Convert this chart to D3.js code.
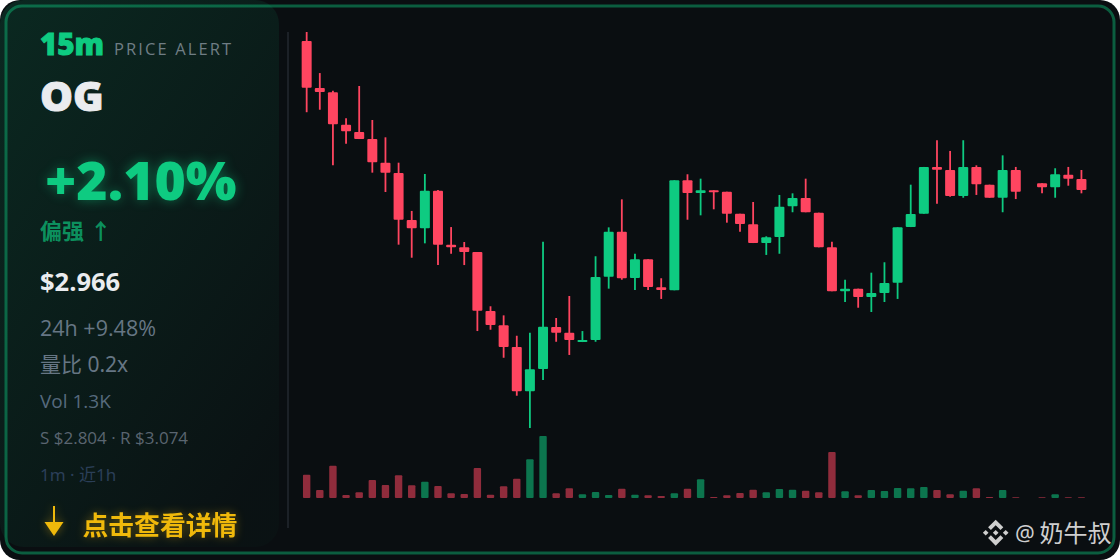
<!DOCTYPE html>
<html>
<head>
<meta charset="utf-8">
<script src="https://cdn.jsdelivr.net/npm/d3@7/dist/d3.min.js"></script>
<style>
	html, body { margin: 0; padding: 0; background: #fff; }
	svg { display: block; }
	text { font-family: "Open Sans", "Noto Sans CJK SC", sans-serif; }
	.cjk { font-family: "Noto Sans", "Noto Sans CJK SC", sans-serif; }
</style>
</head>
<body>
<svg id="chart" width="1120" height="560"></svg>
<script>
// candles, oldest first. index 55 had no trades, nothing is drawn for it
var opens = [3.0679,3.0358,3.0329,3.0108,3.0058,3.0010,2.9849,2.9779,2.9458,2.9402,
	2.9658,2.9290,2.9272,2.9240,2.8838,2.8740,2.8592,2.8290,2.8442,2.8729,
	2.8690,2.8626,2.8640,2.9072,2.9378,2.9063,2.9190,2.8999,2.8979,2.9729,
	2.9642,2.9661,2.9651,2.9501,2.9429,2.9301,2.9342,2.9552,2.9608,2.9508,
	2.9272,2.8972,2.8990,2.8933,2.8960,2.9031,2.9410,2.9501,2.9820,2.9799,
	2.9622,2.9820,2.9699,2.9610,2.9799,null,2.9708,2.9681,2.9767,2.9738];
var highs = [3.0740,3.0460,3.0340,3.0152,3.0372,3.0140,3.0022,2.9849,2.9520,2.9772,
	2.9663,2.9410,2.9308,2.9240,2.8870,2.8808,2.8669,2.8690,2.9310,2.8790,
	2.8940,2.8701,2.9211,2.9408,2.9599,2.9228,2.9190,2.9061,2.9729,2.9770,
	2.9740,2.9661,2.9651,2.9501,2.9581,2.9347,2.9629,2.9640,2.9740,2.9508,
	2.9310,2.9051,2.8990,2.9099,2.9170,2.9408,2.9699,2.9820,3.0002,2.9929,
	3.0002,2.9831,2.9699,2.9899,2.9820,null,2.9708,2.9811,2.9820,2.9799];
var lows = [3.0193,3.0210,2.9831,2.9978,3.0010,2.9781,2.9649,2.9290,2.9201,2.9299,
	2.9151,2.9228,2.9151,2.8701,2.8710,2.8519,2.8260,2.8040,2.8367,2.8628,
	2.8538,2.8626,2.8628,2.8990,2.9051,2.8981,2.8981,2.8920,2.8979,2.9460,
	2.9490,2.9531,2.9440,2.9378,2.9301,2.9220,2.9228,2.9511,2.9511,2.9272,
	2.8972,2.8899,2.8860,2.8831,2.8899,2.8920,2.9410,2.9501,2.9569,2.9617,
	2.9610,2.9629,2.9610,2.9511,2.9601,null,2.9640,2.9610,2.9692,2.9640];
var closes = [3.0360,3.0331,3.0111,3.0063,3.0010,2.9852,2.9781,2.9460,2.9402,2.9658,
	2.9290,2.9272,2.9240,2.8840,2.8742,2.8592,2.8290,2.8440,2.8731,2.8690,
	2.8640,2.8640,2.9070,2.9378,2.9061,2.9190,2.9001,2.8981,2.9729,2.9642,
	2.9661,2.9647,2.9501,2.9431,2.9301,2.9340,2.9549,2.9608,2.9511,2.9272,
	2.8972,2.8990,2.8933,2.8960,2.9029,2.9408,2.9499,2.9820,2.9801,2.9622,
	2.9820,2.9702,2.9610,2.9799,2.9651,null,2.9681,2.9770,2.9740,2.9663];
var volumes = [23.3,8,32.3,3,5.7,18,13,22.7,12.7,16.3,
	12,4.7,4,30,3.3,11.7,19.3,38.7,62,4.7,
	9.7,3.7,6,3,9.3,3.3,2.7,2,4.7,9.3,
	18.7,1,2.7,5,8.3,5.7,9,8.3,7.3,5.7,
	46,6.7,2.7,8,7,10,9.7,11,8,3.7,
	7.3,9.7,1,8,0.7,0,0.7,3.7,0.7,0.7];

var SUPPORT = 2.804;
var RESISTANCE = 3.074;
var VOL_MAX = 62;

var GREEN = "#0ecb81";
var RED = "#ff4560";
var GOLD = "#f0b90b";

var svg = d3.select("#chart");
var defs = svg.append("defs");

var panelGrad = defs.append("linearGradient").attr("id", "panelGrad")
	.attr("x1", 0).attr("y1", 0).attr("x2", 0.75).attr("y2", 1);
panelGrad.append("stop").attr("offset", "0%").attr("stop-color", GREEN).attr("stop-opacity", 0.14);
panelGrad.append("stop").attr("offset", "100%").attr("stop-color", GREEN).attr("stop-opacity", 0.02);

// card
svg.append("rect")
	.attr("x", 0).attr("y", 0)
	.attr("width", 1120).attr("height", 560)
	.attr("rx", 20).attr("ry", 20)
	.attr("fill", "#0a0e11");

svg.append("rect")
	.attr("x", 0).attr("y", 0)
	.attr("width", 279).attr("height", 547)
	.attr("rx", 24).attr("ry", 24)
	.attr("fill", "url(#panelGrad)");

svg.append("rect")
	.attr("x", 6).attr("y", 6)
	.attr("width", 1108).attr("height", 547)
	.attr("rx", 16).attr("ry", 16)
	.attr("fill", "none")
	.attr("stroke", GREEN)
	.attr("stroke-opacity", 0.42)
	.attr("stroke-width", 3);

// scales
var xScale = d3.scaleBand().domain(d3.range(opens.length)).range([300.1, 1088]);
var yScale = d3.scaleLinear().domain([SUPPORT, RESISTANCE]).range([428, 32]);
var volScale = d3.scaleLinear().domain([0, VOL_MAX]).range([498, 436]);

var BODY_W = 10;
var VOL_W = 7.4;

svg.append("line")
	.attr("x1", 288).attr("x2", 288)
	.attr("y1", 32).attr("y2", 528)
	.attr("stroke", "#1c2127")
	.attr("stroke-width", 2);

var candles = d3.range(opens.length).filter(function(i) { return opens[i] !== null; });

function candleColor(i) {
	return closes[i] >= opens[i] ? GREEN : RED;
}

var candleG = svg.append("g").attr("class", "candles");

candleG.selectAll("line")
	.data(candles)
	.enter().append("line")
	.attr("x1", function(i) { return xScale(i) + xScale.bandwidth()/2; })
	.attr("x2", function(i) { return xScale(i) + xScale.bandwidth()/2; })
	.attr("y1", function(i) { return yScale(highs[i]); })
	.attr("y2", function(i) { return yScale(lows[i]); })
	.attr("stroke", candleColor)
	.attr("stroke-width", 1.8);

candleG.selectAll("rect")
	.data(candles)
	.enter().append("rect")
	.attr("x", function(i) { return xScale(i) + xScale.bandwidth()/2 - BODY_W/2; })
	.attr("y", function(i) { return yScale(Math.max(opens[i], closes[i])); })
	.attr("width", BODY_W)
	.attr("height", function(i) { return Math.abs(yScale(opens[i]) - yScale(closes[i])); })
	.attr("rx", 1)
	.attr("fill", candleColor);

svg.append("g").attr("class", "volumes").selectAll("rect")
	.data(candles)
	.enter().append("rect")
	.attr("x", function(i) { return xScale(i) + xScale.bandwidth()/2 - VOL_W/2; })
	.attr("y", function(i) { return volScale(volumes[i]); })
	.attr("width", VOL_W)
	.attr("height", function(i) { return volScale(0) - volScale(volumes[i]); })
	.attr("rx", 1)
	.attr("fill", candleColor)
	.attr("fill-opacity", 0.55);

// left panel text
function label(str, x, y, size, color, weight, extra) {
	var t = svg.append("text")
		.attr("x", x).attr("y", y)
		.attr("font-size", size)
		.attr("font-weight", weight || 400)
		.attr("fill", color)
		.text(str);
	if (extra) extra(t);
	return t;
}

// open sans stops at 800, the stroke makes up the rest of the weight
function heavy(t) {
	t.attr("stroke", t.attr("fill")).attr("stroke-width", 0.9);
}

label("15m", 40, 55, 29.5, GREEN, 800, heavy);
label("PRICE ALERT", 114, 55, 16.5, "#6f7d84", 400, function(t) { t.attr("letter-spacing", 2.1); });
label("OG", 40, 111, 41.5, "#eaecef", 800, heavy);
label("+2.10%", 45, 200, 53.5, GREEN, 800, function(t) {
	t.style("filter", "drop-shadow(0 0 6px rgba(14,203,129,0.45))");
});
label("偏强 ↑", 40, 239, 22, GREEN, 700, function(t) { t.attr("class", "cjk").attr("fill-opacity", 0.68); });
label("$2.966", 40, 291, 25.5, "#eaecef", 700);
label("24h +9.48%", 40, 336, 21.5, "#667684", 400);
label("量比 0.2x", 40, 372, 21, "#667684", 400, function(t) { t.attr("class", "cjk"); });
label("Vol 1.3K", 40, 408, 19, "#566a7d", 400);
label("S $2.804 · R $3.074", 40, 444, 17, "#5a6570", 400);
label("1m · 近1h", 40, 481, 17, "#2b3f58", 400, function(t) { t.attr("class", "cjk"); });

var goldGlow = "drop-shadow(0 0 5px rgba(240,185,11,0.4))";

svg.append("path")
	.attr("d", "M53,506h2v16h8.5l-9.5,14l-9.5,-14h8.5z")
	.attr("fill", GOLD)
	.style("filter", goldGlow);
label("点击查看详情", 82.5, 535, 25.8, GOLD, 700, function(t) {
	t.attr("class", "cjk").style("filter", goldGlow);
});

// watermark
var logo = svg.append("g").attr("transform", "translate(995.7,532.7)").attr("fill", "#cfcfcf");
logo.append("path").attr("d", "M0,-13L7.6,-5.4L4.8,-2.6L0,-7.4L-4.8,-2.6L-7.6,-5.4Z");
logo.append("path").attr("d", "M0,13L7.6,5.4L4.8,2.6L0,7.4L-4.8,2.6L-7.6,5.4Z");
logo.append("path").attr("d", "M0,-2.8L2.8,0L0,2.8L-2.8,0Z");
logo.append("path").attr("d", "M-10,-2.8L-7.2,0L-10,2.8L-12.8,0Z");
logo.append("path").attr("d", "M10,-2.8L12.8,0L10,2.8L7.2,0Z");
label("@", 1015, 541, 22, "#cfcfcf", 400, function(t) { t.attr("class", "cjk"); });
label("奶牛叔", 1039.5, 542, 24, "#cfcfcf", 400, function(t) { t.attr("class", "cjk"); });
</script>
</body>
</html>
